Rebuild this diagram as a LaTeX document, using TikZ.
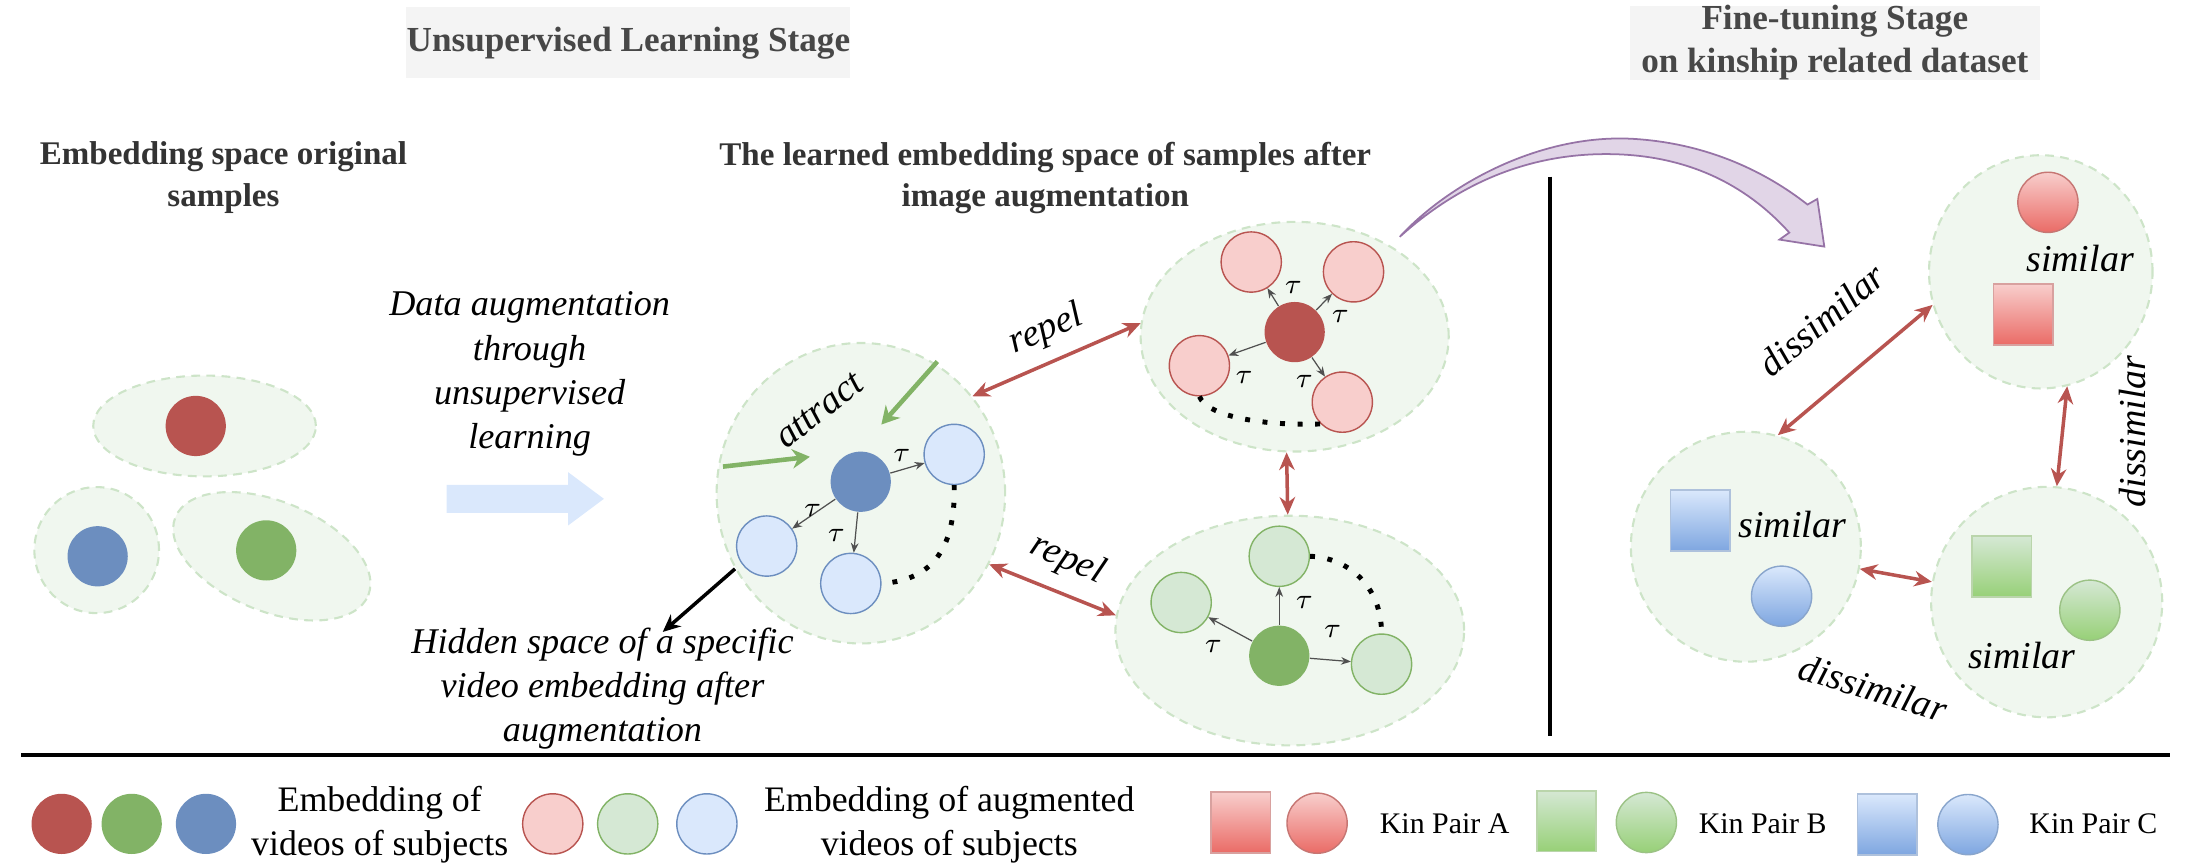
\documentclass[tikz,border=0pt]{standalone}
\usepackage{fontspec}
\setmainfont{Liberation Serif}
\usetikzlibrary{positioning, shapes.geometric, arrows.meta}
\definecolor{redDark}{RGB}{184,84,80}
\definecolor{greenDark}{RGB}{130,179,102}
\definecolor{blueDark}{RGB}{108,142,191}
\definecolor{redLight}{RGB}{248,206,204}
\definecolor{greenLight}{RGB}{213,232,212}
\definecolor{blueLight}{RGB}{218,232,252}
\definecolor{redGrad}{RGB}{234,107,102}
\definecolor{greenGrad}{RGB}{151,208,119}
\definecolor{blueGrad}{RGB}{126,166,224}
\definecolor{spaceFill}{RGB}{240,247,239}
\definecolor{spaceLine}{RGB}{205,228,200}
\definecolor{stageFill}{RGB}{244,244,244}
\definecolor{tauGray}{RGB}{80,80,80}
\definecolor{purpleFill}{RGB}{225,213,231}
\definecolor{purpleLine}{RGB}{150,115,166}
\tikzstyle{embedding} = [x = 0.014cm, y = -0.014cm]
\tikzstyle{stageBox} = [fill=stageFill, minimum height=0.714cm, inner sep=0, align=center, text=black!72, font=\fontsize{10}{12.1}\selectfont\bfseries]
\tikzstyle{headText} = [align=center, text=black!80, font=\fontsize{9.4}{11.9}\selectfont\bfseries]
\tikzstyle{noteText} = [align=center, font=\fontsize{10.3}{12.6}\selectfont\itshape]
\tikzstyle{forceText} = [inner sep=0, font=\fontsize{10.8}{13}\selectfont\itshape]
\tikzstyle{legendText} = [align=center, font=\fontsize{10.2}{12.3}\selectfont]
\tikzstyle{kinText} = [font=\fontsize{8.5}{10}\selectfont]
\tikzstyle{tauText} = [inner sep=0, font=\fontsize{8.5}{10}\selectfont]
\tikzstyle{spaceStyle} = [ellipse, draw=spaceLine, fill=spaceFill, line width=0.6pt, dash pattern=on 2.5pt off 1.8pt, inner sep=0]
\tikzstyle{subjectStyle} = [circle, minimum size=0.602cm, inner sep=0]
\tikzstyle{augmentStyle} = [circle, minimum size=0.602cm, inner sep=0, line width=0.4pt]
\tikzstyle{pairSquareStyle} = [rectangle, minimum width=0.596cm, minimum height=0.609cm, inner sep=0, line width=0.5pt]
\tikzstyle{pairCircleStyle} = [circle, minimum size=0.602cm, inner sep=0, line width=0.4pt]
\tikzstyle{tauLine} = [color=tauGray, line width=0.35pt, -{Stealth[length=2.8pt, width=2.2pt]}]
\tikzstyle{dotLine} = [line width=1.4pt, dash pattern=on 1.4pt off 3.6pt]
\tikzstyle{repelLine} = [color=redDark, line width=1pt, {Stealth[length=5pt, width=4.4pt]}-{Stealth[length=5pt, width=4.4pt]}]
\tikzstyle{attractLine} = [color=greenDark, line width=1.3pt, -{Stealth[length=5pt, width=5.5pt]}]
\tikzstyle{hiddenLine} = [color=black, line width=1pt, -{Stealth[length=5pt, width=4.5pt]}]
\tikzstyle{dividerLine} = [color=black, line width=1.1pt]
\tikzstyle{transferStyle} = [fill=purpleFill, draw=purpleLine, line width=0.5pt]
\newcommand{\embeddingSpace}[4]{\node [spaceStyle, minimum width=#3, minimum height=#4] (#1) at (#2) {};}
\newcommand{\subjectNode}[3]{\node [subjectStyle, fill=#3] (#1) at (#2) {};}
\newcommand{\augmentNode}[3]{\node [augmentStyle, fill=#3Light, draw=#3Dark] (#1) at (#2) {};}
\newcommand{\tauArrow}[3]{\draw [tauLine] (#1) -- (#2); \node [tauText] (tau#2) at (#3) {$\tau$};}
\newcommand{\pairSquare}[3]{\node [pairSquareStyle, top color=#3Light, bottom color=#3Grad, draw=#3Dark!55] (#1) at (#2) {};}
\newcommand{\pairCircle}[3]{\node [pairCircleStyle, top color=#3Light, bottom color=#3Grad, draw=#3Dark!80] (#1) at (#2) {};}

\begin{document}
\begin{tikzpicture}[embedding]
  \useasboundingbox (0,0) rectangle (1568,619);

  \node [stageBox, minimum width=4.438cm] (unsupStage) at (448.5,30.5) {Unsupervised Learning Stage};
  \node [stageBox, minimum width=4.102cm] (fineStage) at (1309.5,30.5) {Fine-tuning Stage\\on kinship related dataset};
  \node [headText] (origHead) at (159.5,127) {Embedding space original\\samples};
  \node [headText] (learnedHead) at (746,127) {The learned embedding space of samples after\\image augmentation};

  % original samples
  \embeddingSpace{origRedSpace}{146,304}{2.226cm}{1.008cm}
  \embeddingSpace{origBlueSpace}{69,392.6}{1.246cm}{1.26cm}
  \node [spaceStyle, minimum width=2.08cm, minimum height=1.1cm, rotate=-22] (origGreenSpace) at (194,397) {};
  \subjectNode{origRed}{139.7,304}{redDark}
  \subjectNode{origBlue}{69.7,397}{blueDark}
  \subjectNode{origGreen}{190,392.8}{greenDark}

  \node [noteText] (augText) at (378,267) {Data augmentation\\through\\unsupervised\\learning};
  \fill [blueLight] (318.8,346) -- (405.5,346) -- (405.5,337) -- (431,356) -- (405.5,375) -- (405.5,366) -- (318.8,366) -- cycle;

  % blue space
  \embeddingSpace{blueSpace}{614.4,352}{2.884cm}{3.004cm}
  \subjectNode{blueSub}{614.3,343.8}{blueDark}
  \augmentNode{blueAugRight}{681,324.3}{blue}
  \augmentNode{blueAugLeft}{547.2,389.7}{blue}
  \augmentNode{blueAugDown}{607.2,416.4}{blue}
  \tauArrow{blueSub}{blueAugRight}{643.6,324.8}
  \tauArrow{blueSub}{blueAugLeft}{580,364}
  \tauArrow{blueSub}{blueAugDown}{597,382}
  \draw [dotLine] (blueAugRight.south) .. controls (682,388) and (668,414) .. (blueAugDown.east);

  \coordinate (attractFromA) at (516,333);
  \coordinate (attractToA) at (578,326);
  \coordinate (attractFromB) at (669,258);
  \coordinate (attractToB) at (629,303);
  \draw [attractLine] (attractFromA) -- (attractToA);
  \draw [attractLine] (attractFromB) -- (attractToB);
  \node [forceText, rotate=38] (attractText) at (585,293) {attract};

  \coordinate (hiddenTip) at (473,451);
  \draw [hiddenLine] (blueSpace.211) -- (hiddenTip);
  \node [noteText] (hiddenText) at (430,491.5) {Hidden space of a specific\\video embedding after\\augmentation};

  % red space
  \embeddingSpace{redSpace}{924,240.3}{3.08cm}{2.296cm}
  \subjectNode{redSub}{924,237}{redDark}
  \augmentNode{redAugUpLeft}{893,187}{red}
  \augmentNode{redAugUpRight}{966,194}{red}
  \augmentNode{redAugLeft}{856,261}{red}
  \augmentNode{redAugDown}{958,287}{red}
  \tauArrow{redSub}{redAugUpLeft}{923,205}
  \tauArrow{redSub}{redAugUpRight}{956.6,226}
  \tauArrow{redSub}{redAugLeft}{888,269.6}
  \tauArrow{redSub}{redAugDown}{931,272}
  \draw [dotLine] (redAugLeft.south) .. controls (862,298) and (905,304) .. (redAugDown.south west);

  % green space
  \embeddingSpace{greenSpace}{920.5,450}{3.486cm}{2.296cm}
  \subjectNode{greenSub}{913,468}{greenDark}
  \augmentNode{greenAugTop}{913,397}{green}
  \augmentNode{greenAugLeft}{843,430}{green}
  \augmentNode{greenAugRight}{986,474}{green}
  \tauArrow{greenSub}{greenAugTop}{931,430}
  \tauArrow{greenSub}{greenAugRight}{951,451}
  \tauArrow{greenSub}{greenAugLeft}{866,461}
  \draw [dotLine] (greenAugTop.east) .. controls (962,398) and (986,418) .. (greenAugRight.north);

  \draw [repelLine] (blueSpace.41) -- (redSpace.175);
  \node [forceText, rotate=23] (repelUp) at (747,235.5) {repel};
  \draw [repelLine] (blueSpace.-29) -- (greenSpace.175);
  \node [forceText, rotate=-24] (repelDown) at (761.8,399.7) {repel};
  \draw [repelLine] (redSpace.-94) -- (greenSpace.91);

  \filldraw [transferStyle] (999,169) .. controls (1035,130) and (1100,96) .. (1164,99) .. controls (1220,102) and (1262,124) .. (1290,146) -- (1297,142) -- (1302,176) -- (1270,171) -- (1277,166) .. controls (1250,136) and (1210,111) .. (1150,110) .. controls (1090,109) and (1040,132) .. (999,169) -- cycle;

  \coordinate (dividerTop) at (1106.5,126);
  \coordinate (dividerBottom) at (1106.5,525);
  \draw [dividerLine] (dividerTop) -- (dividerBottom);

  % kin pairs
  \embeddingSpace{pairASpace}{1456.5,194}{2.234cm}{2.332cm}
  \embeddingSpace{pairCSpace}{1246,390.2}{2.299cm}{2.299cm}
  \embeddingSpace{pairBSpace}{1460.7,429.7}{2.31cm}{2.304cm}
  \pairCircle{pairACircle}{1461.6,144.4}{red}
  \pairSquare{pairASquare}{1444,224.5}{red}
  \pairSquare{pairCSquare}{1213.5,371.5}{blue}
  \pairCircle{pairCCircle}{1271.5,425.5}{blue}
  \pairSquare{pairBSquare}{1428.5,404.5}{green}
  \pairCircle{pairBCircle}{1491.5,435.5}{green}
  \node [forceText] (similarA) at (1484.5,184.4) {similar};
  \node [forceText] (similarC) at (1279,374) {similar};
  \node [forceText] (similarB) at (1443,468) {similar};

  \draw [repelLine] (pairASpace.197.7) -- (pairCSpace.74);
  \draw [repelLine] (pairASpace.-77) -- (pairBSpace.85);
  \draw [repelLine] (pairCSpace.-11) -- (pairBSpace.170);
  \node [forceText, rotate=40] (dissimilarAC) at (1300,228.5) {dissimilar};
  \node [forceText, rotate=90] (dissimilarAB) at (1522,308) {dissimilar};
  \node [forceText, rotate=-17] (dissimilarCB) at (1337,491) {dissimilar};

  % legend
  \coordinate (legendLeft) at (15,539);
  \coordinate (legendRight) at (1549,539);
  \draw [dividerLine] (legendLeft) -- (legendRight);
  \subjectNode{legendRed}{44,588}{redDark}
  \subjectNode{legendGreen}{94,588}{greenDark}
  \subjectNode{legendBlue}{147,588}{blueDark}
  \node [legendText] (legendSubjects) at (271,588.5) {Embedding of\\videos of subjects};
  \augmentNode{legendRedAug}{394.5,588}{red}
  \augmentNode{legendGreenAug}{448,588}{green}
  \augmentNode{legendBlueAug}{504.5,588}{blue}
  \node [legendText] (legendAugmented) at (677.5,588.5) {Embedding of augmented\\videos of subjects};
  \pairSquare{legendASquare}{885.5,587}{red}
  \pairCircle{legendACircle}{940,587.5}{red}
  \node [kinText] (legendA) at (1031,588) {Kin Pair A};
  \pairSquare{legendBSquare}{1118,586}{green}
  \pairCircle{legendBCircle}{1175,587}{green}
  \node [kinText] (legendB) at (1258,588) {Kin Pair B};
  \pairSquare{legendCSquare}{1347,588.5}{blue}
  \pairCircle{legendCCircle}{1404.5,588.5}{blue}
  \node [kinText] (legendC) at (1494,588) {Kin Pair C};
\end{tikzpicture}
\end{document}
